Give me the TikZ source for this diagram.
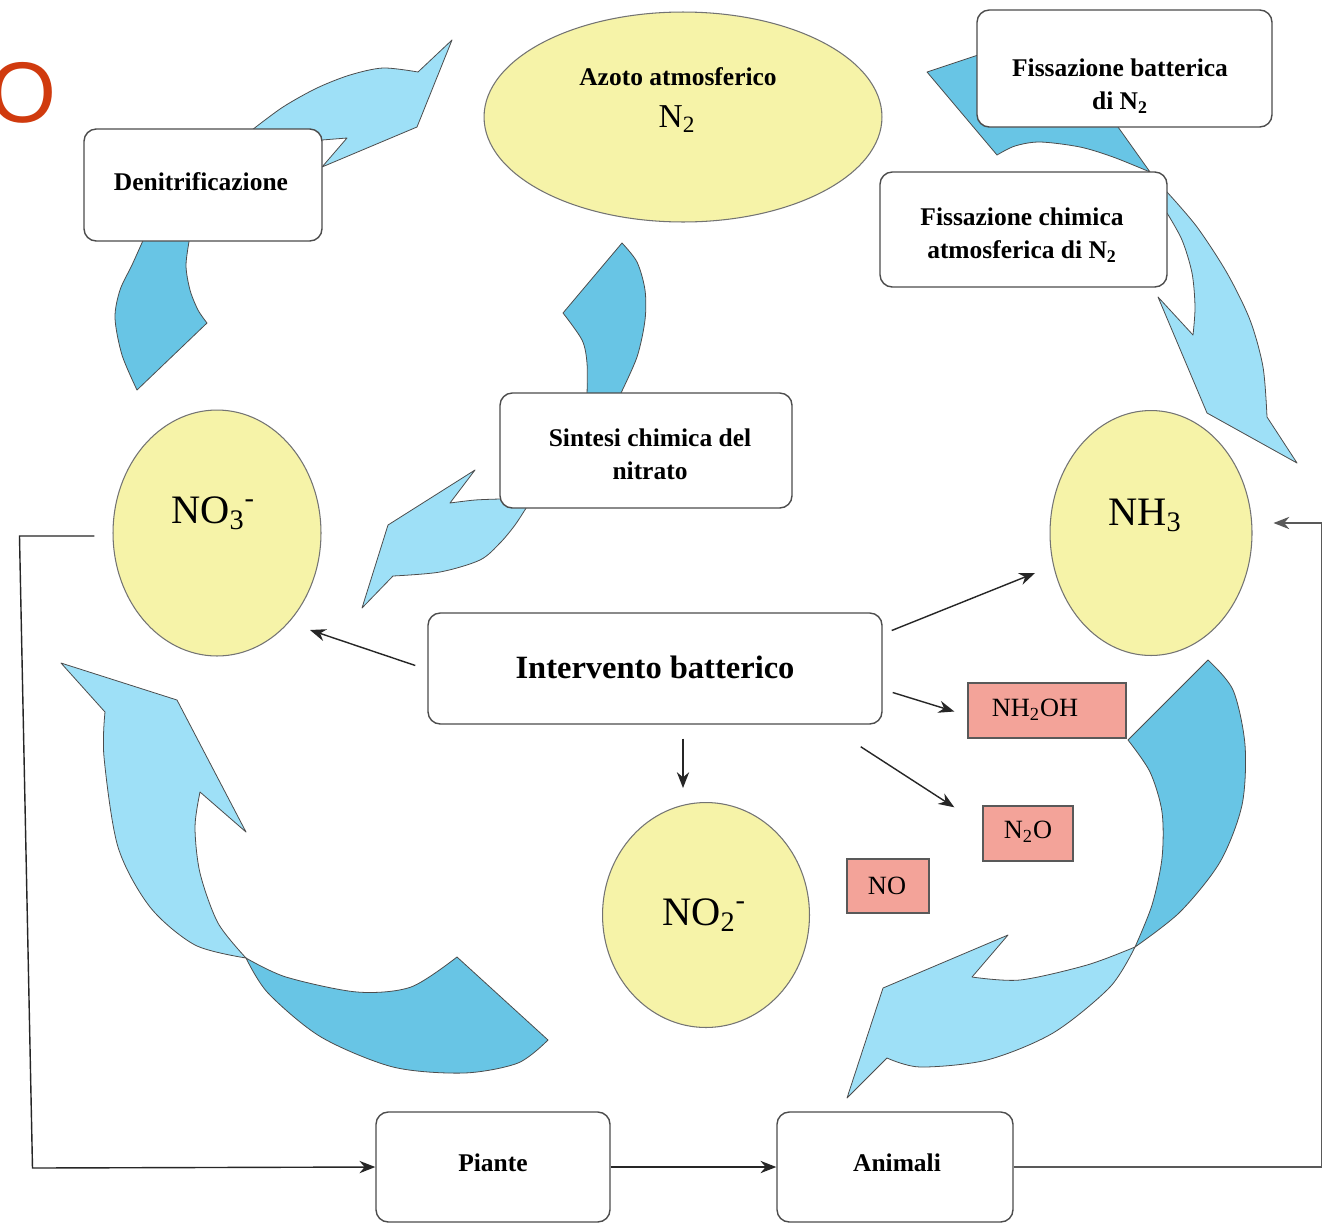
\documentclass[tikz,border=0pt]{standalone}
\usepackage{fontspec}
\setmainfont{Liberation Serif}
\newfontfamily\osans{Liberation Sans}
\usetikzlibrary{shapes.geometric,fit,calc,arrows.meta}
\definecolor{lblue}{RGB}{158,224,247}
\definecolor{dblue}{RGB}{104,197,229}
\definecolor{yel}{RGB}{246,243,168}
\definecolor{pnk}{RGB}{243,163,153}
\definecolor{oran}{RGB}{208,58,14}
\begin{document}
\begin{tikzpicture}[x=0.02cm,y=-0.02cm,
  ba/.style={draw=black!70, line width=0.45pt, line join=round},
  ell/.style={ellipse, draw=black!55, line width=0.6pt, fill=yel, inner sep=0pt},
  rbox/.style={rectangle, draw=black!70, line width=0.8pt, rounded corners=7pt, fill=white, inner sep=0pt},
  pbox/.style={rectangle, draw=black!65, line width=0.8pt, fill=pnk, inner sep=0pt},
  lbl/.style={inner sep=0pt, align=center, font=\bfseries\fontsize{14.5}{19}\selectfont},
  plbl/.style={inner sep=0pt, font=\fontsize{15}{18}\selectfont},
  chem/.style={inner sep=0pt, anchor=base, font=\fontsize{23}{26}\selectfont},
  con/.style={draw=black!85, line width=0.8pt, -{Stealth[length=9pt,width=7pt]}}]
\useasboundingbox (0,0) rectangle (1324,1224);
\clip (0,0) rectangle (1324,1224);
\fill[white] (0,0) rectangle (1324,1224);

% title fragment
\node[anchor=east, inner sep=0pt, text=oran, font=\osans\fontsize{49}{49}\selectfont] (ttl) at (57,93) {O};

% ---- block arrows ----
% top-left (denitrificazione)
\filldraw[ba, fill=dblue] (137,390) -- plot[smooth] coordinates {(137,390) (122,355) (115,318) (120,290) (132,265) (145,236)} -- (190,236) -- plot[smooth] coordinates {(190,236) (186,265) (190,290) (198,310) (207,323)} -- cycle;
\filldraw[ba, fill=lblue] (240,150) -- plot[smooth] coordinates {(252,130) (283,107) (317,88) (350,75) (383,68) (418,72)} -- (452,40) -- (417,127) -- (322,167) -- (347,138) -- (322,140) -- (290,152) -- cycle;

% top-right (fissazione)
\filldraw[ba, fill=dblue] (927,72) -- (978,55) -- (1000,45) -- (1110,115) -- (1118,127) -- (1150,172) -- plot[smooth] coordinates {(1150,172) (1113,157) (1080,147) (1040,142) (1015,146) (997,155)} -- cycle;
\filldraw[ba, fill=lblue] (1150,205) -- (1160,185) -- plot[smooth] coordinates {(1167,192) (1197,227) (1227,273) (1250,320) (1263,367) (1267,417)} -- (1297,463) -- (1207,413) -- (1158,297) -- (1193,335) -- plot[smooth] coordinates {(1193,335) (1195,307) (1192,273) (1182,240) (1167,213)} -- (1155,210) -- cycle;

% sintesi
\filldraw[ba, fill=dblue] (622,243) -- plot[smooth] coordinates {(622,243) (637,262) (645,290) (645,320) (637,357) (620,395)} -- (615,405) -- (588,405) -- plot[smooth] coordinates {(587,395) (587,363) (582,340) (563,313)} -- cycle;
\filldraw[ba, fill=lblue] (540,495) -- plot[smooth] coordinates {(528,505) (515,525) (500,543) (480,560) (440,572) (393,576)} -- (362,608) -- (388,525) -- (475,470) -- (450,503) -- plot[smooth] coordinates {(450,503) (475,500) (500,499)} -- (515,490) -- cycle;

% bottom-left
\filldraw[ba, fill=lblue] (246,958) -- plot[smooth] coordinates {(246,958) (195,945) (150,907) (118,847) (104,757) (105,712)} -- (61,663) -- (177,700) -- (246,832) -- (200,792) -- plot[smooth] coordinates {(200,792) (195,827) (200,873) (218,923) (246,958)} -- cycle;
\filldraw[ba, fill=dblue] (246,958) -- plot[smooth] coordinates {(246,958) (286,977) (357,992) (411,987) (457,957)} -- (548,1040) -- plot[smooth] coordinates {(548,1040) (518,1063) (464,1073) (393,1067) (321,1037) (268,993) (246,958)} -- cycle;

% bottom-right
\filldraw[ba, fill=dblue] (1208,660) -- plot[smooth] coordinates {(1208,660) (1233,690) (1245,745) (1242,805) (1220,862) (1180,912) (1135,947)} -- plot[smooth] coordinates {(1135,947) (1152,905) (1162,858) (1162,812) (1150,772) (1128,740)} -- cycle;
\filldraw[ba, fill=lblue] (1135,947) -- plot[smooth] coordinates {(1135,947) (1087,965) (1020,980) (972,977)} -- (1008,935) -- (883,988) -- (847,1098) -- (887,1058) -- plot[smooth] coordinates {(887,1058) (920,1067) (987,1060) (1053,1033) (1110,987) (1135,947)} -- cycle;

% ---- ellipses ----
\node[ell, minimum width=7.96cm, minimum height=4.2cm] (n2) at (683,117) {};
\node[ell, minimum width=4.16cm, minimum height=4.92cm] (no3) at (217,533) {};
\node[ell, minimum width=4.04cm, minimum height=4.9cm] (nh3) at (1151,533) {};
\node[ell, minimum width=4.14cm, minimum height=4.5cm] (no2) at (706,915) {};

\node[lbl, anchor=base] (n2l) at (678,85) {Azoto atmosferico};
\node[chem, font=\fontsize{19}{22}\selectfont] (n2t) at (677,127) {N\textsubscript{2}};
\node[chem] (no3t) at (213,523) {NO\textsubscript{3}\textsuperscript{-}};
\node[chem] (nh3t) at (1145,525) {NH\textsubscript{3}};
\node[chem] (no2t) at (704,925) {NO\textsubscript{2}\textsuperscript{-}};

% ---- boxes ----
\node[rbox, fit={(84,129) (322,241)}] (den) {};
\node[lbl] (dent) at (201,182) {Denitrificazione};
\node[rbox, fit={(977,10) (1272,127)}] (fb) {};
\node[lbl] (fbt) at (1120,86) {Fissazione batterica\\di N\textsubscript{2}};
\node[rbox, fit={(880,172) (1167,287)}] (fc) {};
\node[lbl] (fct) at (1022,235) {Fissazione chimica\\atmosferica di N\textsubscript{2}};
\node[rbox, fit={(500,393) (792,508)}] (sin) {};
\node[lbl] (sint) at (650,454) {Sintesi chimica del\\nitrato};
\node[rbox, fit={(428,613) (882,724)}] (int) {};
\node[lbl, font=\bfseries\fontsize{18.5}{22}\selectfont] (intt) at (655,667) {Intervento batterico};
\node[rbox, fit={(376,1112) (610,1222)}] (pia) {};
\node[lbl] (piat) at (493,1163) {Piante};
\node[rbox, fit={(777,1112) (1013,1222)}] (ani) {};
\node[lbl] (anit) at (897,1163) {Animali};

\node[pbox, fit={(968,683) (1126,738)}] (nh2oh) {};
\node[plbl] (nh2oht) at (1035,710) {NH\textsubscript{2}OH};
\node[pbox, fit={(983,806) (1073,861)}] (n2o) {};
\node[plbl] (n2ot) at (1028,832) {N\textsubscript{2}O};
\node[pbox, fit={(847,859) (929,913)}] (no) {};
\node[plbl] (not) at (887,886) {NO};

% ---- connectors ----
\draw[con] ($(int.west)+(-12,-3)$) -- ($(no3.center)+(93,97)$);
\draw[con] ($(int.east)+(9,-38)$) -- ($(nh3.center)+(-116,40)$);
\draw[con] ($(int.east)+(10,24)$) -- ($(nh2oh.west)+(-13,1)$);
\draw[con] ($(int.south east)+(-22,22)$) -- ($(n2o.north west)+(-28,2)$);
\draw[con] ($(int.south)+(28,14)$) -- ($(no2.north)+(-23,-14)$);
\draw[con] ($(no3.west)+(-18,3)$) -- ++(-75,0) -- ++(13,632) -- (pia.west);
\draw[con] (pia.east) -- (ani.west);
\draw[con, draw=black!65] (ani.east) -| ($(nh3.east)+(69,-10)$) -- ($(nh3.east)+(21,-10)$);
\end{tikzpicture}
\end{document}
